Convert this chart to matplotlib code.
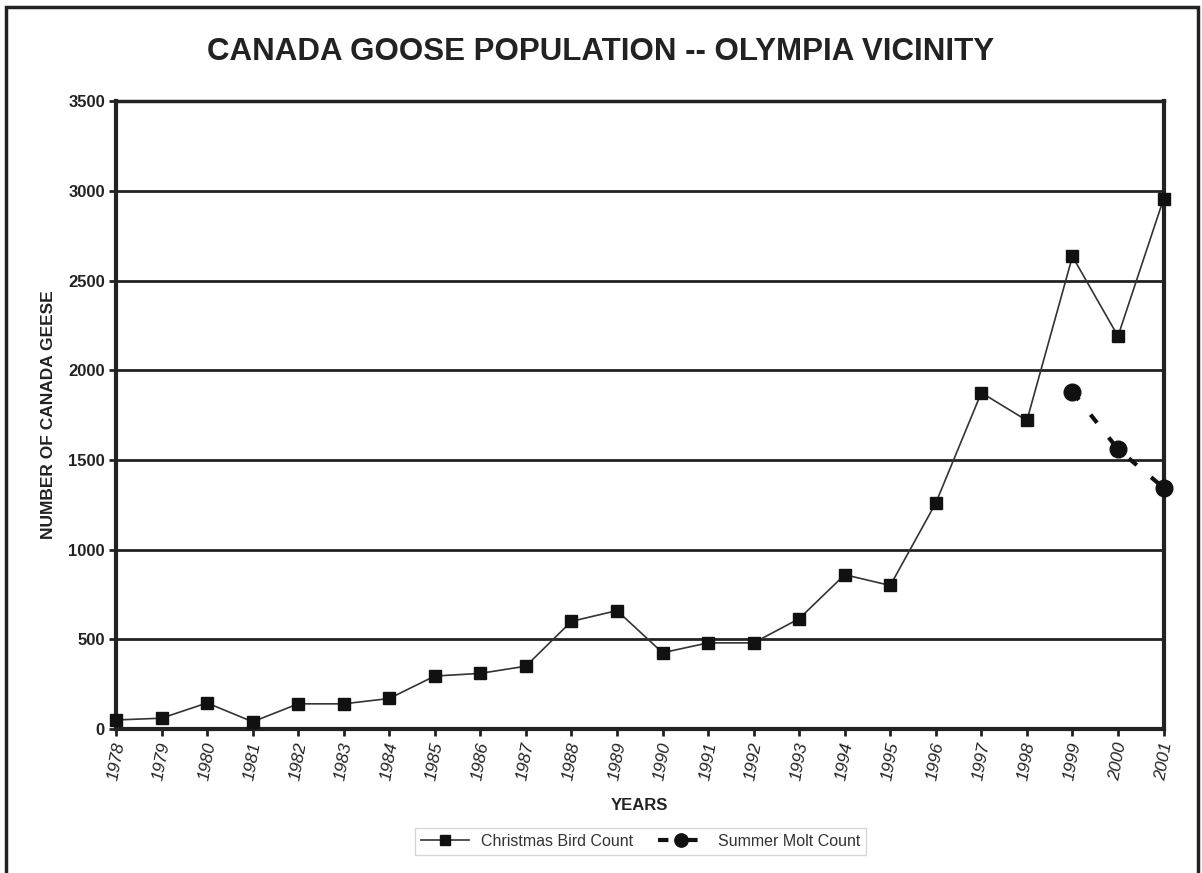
import numpy as np
import matplotlib.pyplot as plt
from matplotlib.patches import Rectangle

years = list(range(1978, 2002))
christmas = [50, 60, 145, 40, 140, 140, 170, 295, 310, 350, 600, 660,
             425, 480, 480, 615, 860, 800, 1260, 1875, 1720, 2635, 2190, 2955]
molt_years = [1999, 2000, 2001]
molt = [1880, 1560, 1345]
yticks = [0, 500, 1000, 1500, 2000, 2500, 3000, 3500]

plt.rcParams['font.family'] = ['Liberation Sans', 'DejaVu Sans']

fig = plt.figure(figsize=(12.02, 8.73), dpi=100)
ax = fig.add_axes([0.0965, 0.165, 0.8715, 0.719])

# outer frame of the picture
fig.patches.append(Rectangle((0.005, -0.05), 0.992, 1.042, transform=fig.transFigure,
                             fill=False, edgecolor="#222222", linewidth=2.5))

for y in yticks[1:-1]:
    ax.axhline(y, color="#222222", linewidth=2, zorder=1)

ax.plot(years, christmas, color="#333333", linewidth=1.2, marker="s",
        markersize=9, markerfacecolor="#111111", markeredgecolor="#111111",
        label="Christmas Bird Count", zorder=3, clip_on=False)
ax.plot(molt_years, molt, color="#111111", linewidth=3, linestyle=(0, (2.5, 4.5)),
        marker="o", markersize=12, markerfacecolor="#111111",
        label="Summer Molt Count", zorder=3, clip_on=False)

ax.set_xlim(1978, 2001)
ax.set_ylim(0, 3500)
ax.set_yticks(yticks)
ax.set_xticks(years)
ax.set_xticklabels([str(y) for y in years], rotation=80, style="italic",
                   fontsize=12.5, color="#222222")
for lab in ax.get_yticklabels():
    lab.set_fontweight("bold")
    lab.set_fontsize(12)
    lab.set_color("#222222")

for side in ["left", "bottom", "right"]:
    ax.spines[side].set_linewidth(3)
    ax.spines[side].set_color("#222222")
ax.spines["top"].set_linewidth(2.5)
ax.spines["top"].set_color("#222222")
ax.tick_params(axis="both", direction="out", length=5, width=2, color="#222222")
ax.tick_params(axis="y", pad=3)

ax.set_ylabel("NUMBER OF CANADA GEESE", fontsize=12.5, fontweight="bold",
              color="#222222", labelpad=9)
ax.set_xlabel("YEARS", fontsize=12, fontweight="bold", color="#222222", labelpad=12)
fig.text(0.5, 0.94, "CANADA GOOSE POPULATION -- OLYMPIA VICINITY", ha="center",
         va="center", fontsize=22.5, fontweight="bold", color="#222222")

leg = fig.legend(loc="center", bbox_to_anchor=(0.533, 0.036), ncol=2, fontsize=11.5,
                 frameon=True, fancybox=False, edgecolor="#cccccc",
                 handlelength=3, borderpad=0.35, columnspacing=1.5, markerscale=0.8)
for t in leg.get_texts():
    t.set_color("#333333")

fig.savefig("out.png", dpi=100)
